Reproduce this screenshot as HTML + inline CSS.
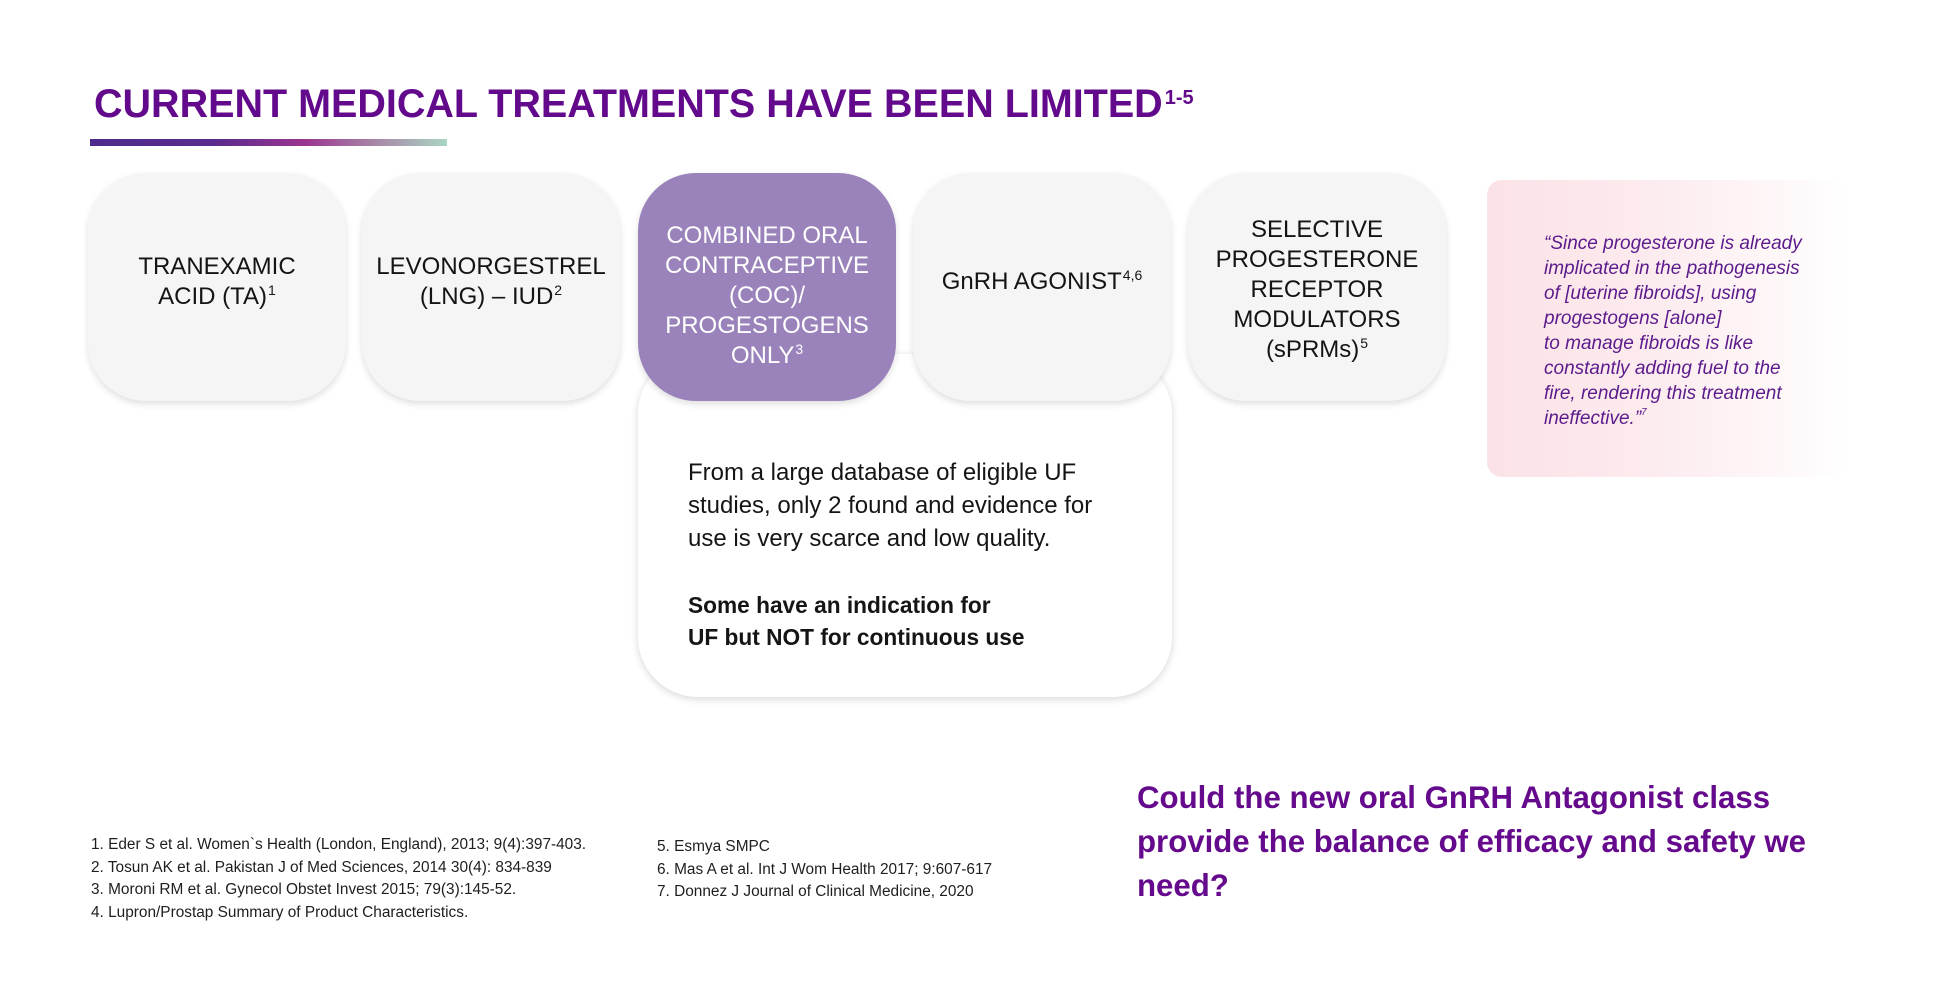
<!DOCTYPE html>
<html>
<head>
<meta charset="utf-8">
<style>
  html, body { margin:0; padding:0; }
  body { width:1942px; height:1004px; background:#ffffff; position:relative; overflow:hidden;
         font-family:"Liberation Sans", Arial, sans-serif; }
  .abs { position:absolute; }
  .title { left:94px; top:84px; font-size:39.5px; line-height:40px; font-weight:bold; color:#630a8c; white-space:nowrap; }
  .title sup { font-size:20px; position:relative; top:4px; vertical-align:top; line-height:20px; margin-left:2px; }
  .bar { left:90px; top:139px; width:357px; height:7px;
         background:linear-gradient(to right,#4e2a8c 0%,#5a2b8e 35%,#9a3590 60%,#a886a8 80%,#a8d6c2 100%); }
  .card { position:absolute; top:173px; width:258px; height:228px; border-radius:58px; background:#f5f5f5;
          box-shadow:0 3px 7px rgba(0,0,0,0.13); }
  .card.purple { background:#9a83bb; }
  .lbl { position:absolute; width:258px; text-align:center; font-size:24px; line-height:30px; color:#141414; white-space:nowrap; }
  .lbl.w { color:#ffffff; }
  .lbl sup { font-size:14px; vertical-align:top; position:relative; top:1px; line-height:14px; margin-left:1px; }
  .detail { left:638px; top:354px; width:534px; height:343px; background:#ffffff; border-radius:60px;
            box-shadow:0 2px 8px rgba(0,0,0,0.16); }
  .dtext { left:688px; font-size:24px; line-height:33px; color:#151515; white-space:nowrap; }
  .dbold { left:688px; font-size:22.7px; line-height:32px; font-weight:bold; color:#151515; white-space:nowrap; }
  .quote { left:1487px; top:180px; width:362px; height:297px; border-radius:15px;
           background:linear-gradient(to right,#fbe2e7 0%,#fcebee 45%,#fef7f8 80%,#ffffff 100%); }
  .qtext { left:1544px; top:231px; font-size:19px; line-height:25px; font-style:italic; color:#5b1b8c; white-space:nowrap; }
  .qtext sup { font-size:10px; vertical-align:top; position:relative; top:2px; line-height:10px; }
  .refs { font-size:15.4px; line-height:22.5px; color:#1e1e1e; white-space:nowrap; }
  .q { left:1137px; top:776px; font-size:31.2px; line-height:44px; font-weight:bold; color:#650a8c; white-space:nowrap; }
</style>
</head>
<body>
  <div class="abs title">CURRENT MEDICAL TREATMENTS HAVE BEEN LIMITED<sup>1-5</sup></div>
  <div class="abs bar"></div>

  <div class="abs detail"></div>
  <div class="abs dtext" style="top:456px;">From a large database of eligible UF<br>studies, only 2 found and evidence for<br>use is very scarce and low quality.</div>
  <div class="abs dbold" style="top:589px;">Some have an indication for<br>UF but NOT for continuous use</div>

  <div class="card" style="left:88px;"></div>
  <div class="lbl" style="left:88px; top:252px;">TRANEXAMIC<br>ACID (TA)<sup>1</sup></div>

  <div class="card" style="left:362px;"></div>
  <div class="lbl" style="left:362px; top:252px;">LEVONORGESTREL<br>(LNG) – IUD<sup>2</sup></div>

  <div class="card purple" style="left:638px;"></div>
  <div class="lbl w" style="left:638px; top:221px;">COMBINED ORAL<br>CONTRACEPTIVE<br>(COC)/<br>PROGESTOGENS<br>ONLY<sup>3</sup></div>

  <div class="card" style="left:913px;"></div>
  <div class="lbl" style="left:913px; top:267px;">GnRH AGONIST<sup>4,6</sup></div>

  <div class="card" style="left:1188px;"></div>
  <div class="lbl" style="left:1188px; top:215px;">SELECTIVE<br>PROGESTERONE<br>RECEPTOR<br>MODULATORS<br>(sPRMs)<sup>5</sup></div>

  <div class="abs quote"></div>
  <div class="abs qtext">“Since progesterone is already<br>implicated in the pathogenesis<br>of [uterine fibroids], using<br>progestogens [alone]<br>to manage fibroids is like<br>constantly adding fuel to the<br>fire, rendering this treatment<br>ineffective.”<sup>7</sup></div>

  <div class="abs refs" style="left:91px; top:834px;">1. Eder S et al. Women`s Health (London, England), 2013; 9(4):397-403.<br>2. Tosun AK et al. Pakistan J of Med Sciences, 2014 30(4): 834-839<br>3. Moroni RM et al. Gynecol Obstet Invest 2015; 79(3):145-52.<br>4. Lupron/Prostap Summary of Product Characteristics.</div>
  <div class="abs refs" style="left:657px; top:836px;">5. Esmya SMPC<br>6. Mas A et al. Int J Wom Health 2017; 9:607-617<br>7. Donnez J Journal of Clinical Medicine, 2020</div>

  <div class="abs q">Could the new oral GnRH Antagonist class<br>provide the balance of efficacy and safety we<br>need?</div>
</body>
</html>
